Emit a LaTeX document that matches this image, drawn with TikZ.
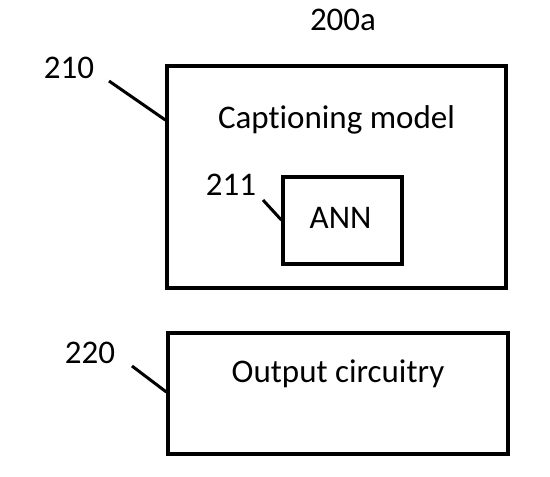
\documentclass[tikz,border=0pt]{standalone}
\usepackage{fontspec}
\setmainfont{Carlito}[Ligatures=NoCommon]
\begin{document}
\begin{tikzpicture}[x=1pt,y=-1pt,
  box/.style={draw=black,line width=3.3pt,minimum width=#1,inner sep=0pt},
  lbl/.style={anchor=base,inner sep=0pt,font=\fontsize{33}{39}\selectfont},
  leader/.style={draw=black,line width=3pt}]
\useasboundingbox (0,0) rectangle (550,477);
% boxes
\node[box=339pt,minimum height=222pt] (b210) at (336.5,177) {};
\node[box=119pt,minimum height=87pt] (b211) at (342.5,220.5) {};
\node[box=340pt,minimum height=121pt] (b220) at (338,393.5) {};
% texts
\node[lbl] (t200a) at (343,30) {200a};
\node[lbl] (tcap) at (336.5,128) {Captioning model};
\node[lbl] (tann) at (340.5,228.5) {ANN};
\node[lbl] (tout) at (338,382) {Output circuitry};
\node[lbl] (t210) at (69,78) {210};
\node[lbl] (t211) at (231,195) {211};
\node[lbl] (t220) at (90,363) {220};
% leaders
\coordinate (a210) at (109,81);
\coordinate (e210) at (b210.west |- 0,120);
\coordinate (a211) at (263,200);
\coordinate (e211) at (b211.west |- 0,220);
\coordinate (a220) at (132,366);
\coordinate (e220) at (b220.west |- 0,392);
\draw[leader] (a210) -- (e210);
\draw[leader] (a211) -- (e211);
\draw[leader] (a220) -- (e220);
\end{tikzpicture}
\end{document}
